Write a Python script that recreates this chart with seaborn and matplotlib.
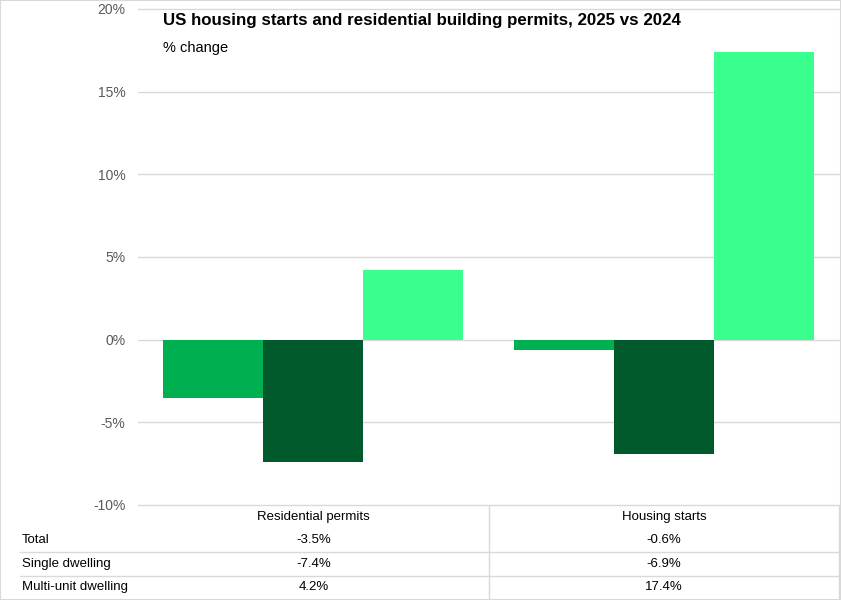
import matplotlib
matplotlib.use("Agg")
import matplotlib.pyplot as plt
import seaborn as sns
import pandas as pd
from matplotlib.lines import Line2D
from matplotlib.patches import Rectangle

categories = ["Residential permits", "Housing starts"]
series_names = ["Total", "Single dwelling", "Multi-unit dwelling"]
total = [-3.5, -0.6]
single = [-7.4, -6.9]
multi = [4.2, 17.4]
colors = ["#00B050", "#005A2C", "#38FF8D"]
yticks = [-10, -5, 0, 5, 10, 15, 20]
title = "US housing starts and residential building permits, 2025 vs 2024"
subtitle = "% change"

rows = []
for name, vals in zip(series_names, [total, single, multi]):
    for c, v in zip(categories, vals):
        rows.append({"category": c, "series": name, "value": v})
df = pd.DataFrame(rows)

sns.set_theme(style="white")
plt.rcParams["font.family"] = ["Liberation Sans", "DejaVu Sans"]

W, H = 841, 600
fig = plt.figure(figsize=(W / 100, H / 100), dpi=100)
fig.patch.set_facecolor("white")

x0, x1, y0, y1 = 138, 839, 9, 505
ax = fig.add_axes([x0 / W, 1 - y1 / H, (x1 - x0) / W, (y1 - y0) / H])

sns.barplot(data=df, x="category", y="value", hue="series", order=categories,
            hue_order=series_names, palette=colors, width=0.855, gap=0,
            saturation=1, ax=ax, legend=False, linewidth=0, edgecolor="none")

ax.set_xlim(-0.5, 1.5)
ax.set_ylim(-10, 20)
ax.set_yticks(yticks)
ax.set_yticklabels([f"{t}%" for t in yticks], fontsize=10, color="#595959")
ax.set_xticks([])
ax.set_xlabel("")
ax.set_ylabel("")
ax.grid(axis="y", color="#D9D9D9", linewidth=1)
for gl in ax.get_ygridlines():
    gl.set_clip_on(False)
ax.set_axisbelow(True)
for s in ax.spines.values():
    s.set_visible(False)
ax.tick_params(axis="y", length=0, pad=9)

def fx(px):
    return px / W

def fy(py):
    return 1 - py / H

# Title
fig.text(fx(163), fy(20), title, fontsize=12.2, fontweight="bold", color="black",
         ha="left", va="center")
fig.text(fx(163), fy(48), subtitle, fontsize=10.5, color="black", ha="left", va="center")

# Data table
line_c = "#D9D9D9"
fig.add_artist(Line2D([fx(489), fx(489)], [fy(505), fy(600)], color=line_c, lw=1))
fig.add_artist(Line2D([fx(839), fx(839)], [fy(505), fy(600)], color=line_c, lw=1))
for py in [552, 576]:
    fig.add_artist(Line2D([fx(20), fx(839)], [fy(py), fy(py)], color=line_c, lw=1))

centers = [313.5, 664]
for c, cx in zip(categories, centers):
    fig.text(fx(cx), fy(517), c, fontsize=9.5, color="black", ha="center", va="center")
row_y = [540, 564, 587]
for name, vals, ry in zip(series_names, [total, single, multi], row_y):
    fig.text(fx(22), fy(ry), name, fontsize=9.5, color="black", ha="left", va="center")
    for v, cx in zip(vals, centers):
        fig.text(fx(cx), fy(ry), f"{v:.1f}%", fontsize=9.5, color="black",
                 ha="center", va="center")

# Border
fig.add_artist(Rectangle((0, 0), 1, 1, transform=fig.transFigure, fill=False,
                         edgecolor="#D9D9D9", lw=1.5))

fig.savefig("out.png", dpi=100)
